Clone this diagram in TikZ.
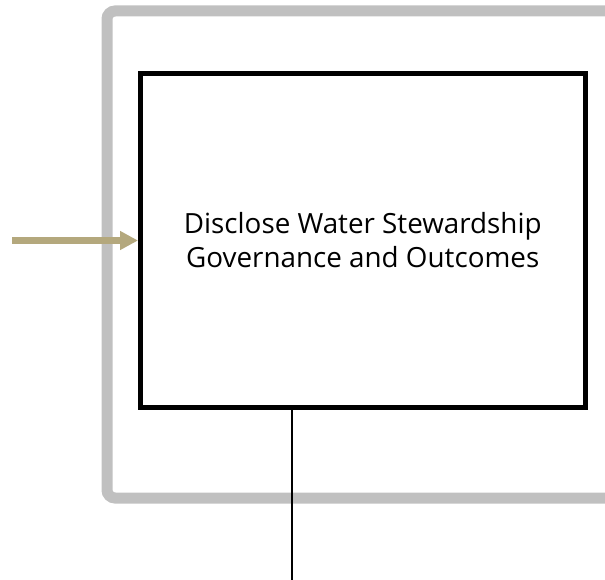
\documentclass[tikz,border=0pt]{standalone}
\usepackage{fontspec}
\setmainfont{Open Sans}
\usetikzlibrary{positioning,arrows.meta}

\definecolor{framegray}{RGB}{192,192,192}
\definecolor{flowtan}{RGB}{180,168,125}

\begin{document}
\begin{tikzpicture}[
  x=1pt, y=-1pt,
  >=Triangle,
  font=\fontsize{27.8}{34}\selectfont,
  frame/.style={draw=framegray, line width=11pt, rounded corners=8pt},
  activity/.style={draw, line width=5pt, align=center, minimum width=444.5pt, minimum height=334pt, inner sep=0pt},
  flow/.style={draw=flowtan, line width=6pt, arrows={-Triangle[length=18pt, width=18pt, fill=flowtan]}},
  link/.style={line width=1.3pt}
]
\useasboundingbox (0,0) rectangle (605,580);
\draw[frame] (640,11) -- (107,11) -- (107,498) -- (640,498);
\node[activity] (disclose) at (362.75,240.5) {Disclose Water Stewardship\\Governance and Outcomes};
\coordinate (in) at (12,240.5);
\coordinate (out) at (292,580);

\draw[flow] (in) -- (disclose.west);
\draw[link] (out |- disclose.south) -- (out);
\end{tikzpicture}
\end{document}
